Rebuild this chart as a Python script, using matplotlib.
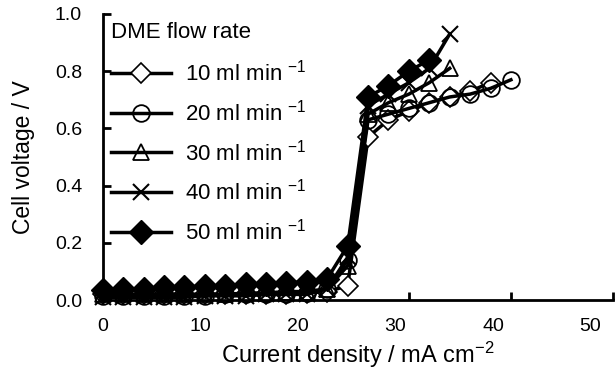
import matplotlib
matplotlib.use("Agg")
from matplotlib import pyplot as plt

plt.rcParams['font.family'] = ['Liberation Sans', 'DejaVu Sans']
plt.rcParams['mathtext.default'] = 'regular'

# current density (mA cm-2) and cell voltage (V) for each DME flow rate
x_10 = [0, 2, 4, 6, 8, 10, 12, 14, 16, 18, 20, 22, 24, 26, 28, 30, 32, 34, 36, 38]
v_10 = [0.02, 0.02, 0.02, 0.02, 0.02, 0.02, 0.02, 0.02, 0.02, 0.02, 0.025, 0.03, 0.05,
        0.57, 0.63, 0.66, 0.69, 0.71, 0.73, 0.76]

x_20 = [0, 2, 4, 6, 8, 10, 12, 14, 16, 18, 20, 22, 24, 26, 28, 30, 32, 34, 36, 38, 40]
v_20 = [0.015, 0.015, 0.015, 0.015, 0.015, 0.015, 0.02, 0.02, 0.02, 0.02, 0.025, 0.04, 0.14,
        0.63, 0.65, 0.67, 0.69, 0.71, 0.72, 0.74, 0.77]

x_30 = [0, 2, 4, 6, 8, 10, 12, 14, 16, 18, 20, 22, 24, 26, 28, 30, 32, 34]
v_30 = [0.02, 0.02, 0.02, 0.02, 0.02, 0.02, 0.02, 0.025, 0.025, 0.03, 0.03, 0.04, 0.12,
        0.65, 0.69, 0.72, 0.76, 0.81]

x_40 = [0, 2, 4, 6, 8, 10, 12, 14, 16, 18, 20, 22, 24, 26, 28, 30, 32, 34]
v_40 = [0.01, 0.01, 0.01, 0.01, 0.01, 0.015, 0.015, 0.015, 0.02, 0.02, 0.02, 0.04, 0.15,
        0.68, 0.72, 0.76, 0.81, 0.93]

x_50 = [0, 2, 4, 6, 8, 10, 12, 14, 16, 18, 20, 22, 24, 26, 28, 30, 32]
v_50 = [0.035, 0.04, 0.04, 0.045, 0.045, 0.05, 0.05, 0.055, 0.055, 0.06, 0.065, 0.075, 0.19,
        0.71, 0.75, 0.80, 0.84]

labels = ["10 ml min $^{-1}$", "20 ml min $^{-1}$", "30 ml min $^{-1}$",
          "40 ml min $^{-1}$", "50 ml min $^{-1}$"]
x_ticks = [0, 10, 20, 30, 40, 50]
y_ticks = [0.0, 0.2, 0.4, 0.6, 0.8, 1.0]

fig = plt.figure(figsize=(6.16, 3.78), dpi=100)
ax = fig.add_axes([0.167, 0.206, 0.828, 0.757])

lw = 2.5
ax.plot(x_10, v_10, color="black", lw=lw, marker="D", ms=10, mfc="white", mec="black",
        mew=1.2, label=labels[0], clip_on=False)
ax.plot(x_20, v_20, color="black", lw=lw, marker="o", ms=12, mfc="none", mec="black",
        mew=1.3, label=labels[1], clip_on=False)
ax.plot(x_30, v_30, color="black", lw=lw, marker="^", ms=12, mfc="none", mec="black",
        mew=1.3, label=labels[2], clip_on=False)
ax.plot(x_40, v_40, color="black", lw=lw, marker="x", ms=12, mec="black",
        mew=1.5, label=labels[3], clip_on=False)
ax.plot(x_50, v_50, color="black", lw=lw, marker="D", ms=12, mfc="black", mec="black",
        label=labels[4], clip_on=False)

ax.set_xlim(0, 50)
ax.set_ylim(0, 1.0)

for side in ["top", "right"]:
    ax.spines[side].set_visible(False)
for side in ["left", "bottom"]:
    ax.spines[side].set_linewidth(2)

# ticks point inwards; x labels sit slightly left of the tick marks as in the original
ax.xaxis.remove_overlapping_locs = False
ax.set_xticks(x_ticks)
ax.set_xticklabels([])
ax.set_xticks([t * 0.956 for t in x_ticks], minor=True)
ax.set_xticklabels([str(t) for t in x_ticks], minor=True)
ax.tick_params(axis="x", which="major", direction="in", length=6, width=2)
ax.tick_params(axis="x", which="minor", length=0, pad=13, labelsize=14)
ax.set_yticks(y_ticks)
ax.set_yticklabels([f"{t:.1f}" for t in y_ticks])
ax.tick_params(axis="y", direction="in", length=6, width=2, pad=15, labelsize=14)

ax.set_xlabel("Current density / mA cm$^{-2}$", fontsize=17, labelpad=3)
ax.set_ylabel("Cell voltage / V", fontsize=16.5, labelpad=14)

leg = ax.legend(title="DME flow rate", loc="upper left", bbox_to_anchor=(-0.005, 1.01),
                frameon=False, fontsize=16, title_fontsize=16, handlelength=2.7,
                labelspacing=0.62, handletextpad=0.6, borderaxespad=0.3, borderpad=0.2)
leg._legend_box.align = "left"
leg._legend_box.sep = 12

fig.savefig("out.png", dpi=100)
